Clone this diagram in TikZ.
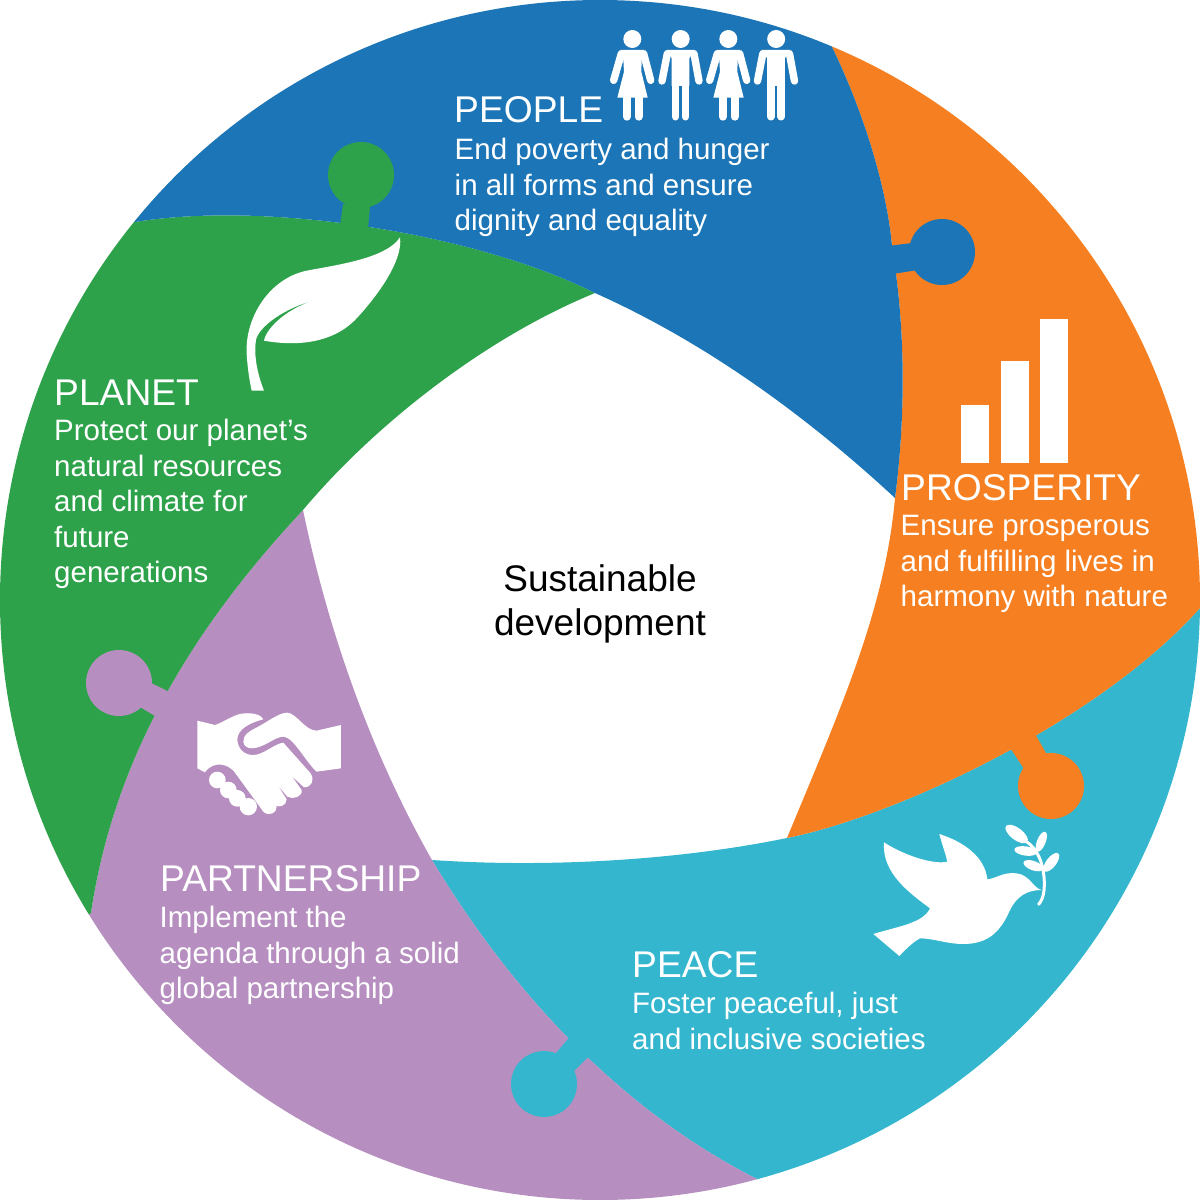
\documentclass[tikz,border=0pt]{standalone}
\usepackage{fontspec}
\setmainfont{Liberation Sans}
\definecolor{cblue}{HTML}{1B75B6}
\definecolor{corange}{HTML}{F68021}
\definecolor{cteal}{HTML}{33B6CE}
\definecolor{cpurple}{HTML}{B68EBF}
\definecolor{cgreen}{HTML}{2DA24A}
\tikzset{
  head/.style={font=\fontsize{37.2}{44}\selectfont,text=white,anchor=base west,inner sep=0pt},
  body/.style={font=\fontsize{29.5}{35.5}\selectfont,text=white,anchor=north west,inner sep=0pt,align=left},
  centre/.style={font=\fontsize{37}{44}\selectfont,text=black,align=center,inner sep=0pt},
  limb/.style={draw=white,line width=8pt,line cap=round,line join=round},
  ico/.style={fill=white,draw=none}
}
\newcommand{\womanicon}[1]{\begin{scope}[shift={(#1,0)},x=0.3333pt,y=-0.3333pt]
 \fill[white] (127,87) circle[radius=27];
 \draw[limb,line width=7.4pt] (94,131) -- (71,211);
 \draw[limb,line width=7.4pt] (161,131) -- (182,211);
 \fill[white] (92,120) -- (162,120) -- (155,150) -- (154,185) -- (173,263) -- (82,263) -- (102,185) -- (100,150) -- cycle;
 \draw[limb] (110.5,255) -- (110.5,320);
 \draw[limb] (145.5,255) -- (145.5,320);
\end{scope}}
\newcommand{\manicon}[1]{\begin{scope}[shift={(#1,0)},x=0.3333pt,y=-0.3333pt]
 \fill[white] (272,87) circle[radius=27];
 \draw[limb,line width=7.4pt] (232,131) -- (216,213);
 \draw[limb,line width=7.4pt] (312,131) -- (327,213);
 \fill[white] (230,120) -- (314,120) -- (298,145) -- (298,228) -- (245,228) -- (245,145) -- cycle;
 \draw[limb,line width=7.7pt] (256.5,225) -- (256.5,320);
 \draw[limb,line width=7.7pt] (286.5,225) -- (286.5,320);
\end{scope}}
\begin{document}
\begin{tikzpicture}[x=1pt,y=-1pt]
\useasboundingbox (0,0) rectangle (1200,1200);
\begin{scope}
\clip (600,600) circle[radius=600];
\fill[cteal] (1200,608) -- (1300,610) -- (1300,1300) -- (800,1300) -- (757,1179)
   .. controls (620,1110) and (510,990) .. (432,860)
   .. controls (550,868) and (680,860) .. (787,838)
   .. controls (900,815) and (1100,720) .. (1200,608) -- cycle;
\fill[corange] (832,47) -- (860,-50) -- (1300,-50) -- (1300,610) -- (1200,608)
   .. controls (1100,720) and (900,815) .. (787,838)
   .. controls (840,710) and (885,610) .. (895,498)
   .. controls (904,430) and (906,350) .. (896,274)
   -- (892,246) .. controls (887,190) and (865,115) .. (832,47) -- cycle;
\fill[cpurple] (91,913) -- (-50,1000) -- (-50,1300) -- (800,1300) -- (757,1179)
   .. controls (620,1110) and (510,990) .. (432,860)
   .. controls (375,760) and (330,640) .. (303,510)
   .. controls (200,620) and (115,750) .. (91,913) -- cycle;
\fill[cgreen] (135,222) -- (60,150) -- (-50,150) -- (-50,1000) -- (91,913)
   .. controls (115,750) and (200,620) .. (303,510)
   .. controls (370,430) and (480,340) .. (595,293)
   .. controls (480,235) and (270,200) .. (135,222) -- cycle;
\fill[cblue] (135,222) -- (60,150) -- (60,-50) -- (860,-50) -- (832,47)
   .. controls (865,115) and (887,190) .. (892,246) -- (896,274)
   .. controls (906,350) and (904,430) .. (895,498)
   .. controls (800,410) and (700,340) .. (595,293)
   .. controls (480,235) and (270,200) .. (135,222) -- cycle;
\end{scope}
% knobs
\fill[cblue] (942,252) circle[radius=33];
\fill[cblue] (880,247) -- (912,243) -- (918,270) -- (880,276) -- cycle;
\fill[cgreen] (361,175) circle[radius=33];
\fill[cgreen] (343,204) -- (370,207) -- (367,240) -- (338,240) -- cycle;
\fill[cpurple] (119,683) circle[radius=33];
\fill[cpurple] (145,680) -- (190,702) -- (175,728) -- (135,704) -- cycle;
\fill[cteal] (544,1084) circle[radius=33];
\fill[cteal] (550,1060) -- (580,1025) -- (600,1045) -- (570,1075) -- cycle;
\fill[corange] (1051,786) circle[radius=33];
\fill[corange] (1005,740) -- (1030,725) -- (1050,760) -- (1028,775) -- cycle;
% bars
\fill[white] (961,405) rectangle (989,463);
\fill[white] (1001,361) rectangle (1029,463);
\fill[white] (1040,319) rectangle (1068,463);
% people
\begin{scope}[shift={(590,10)}]
\womanicon{0}\manicon{0}\womanicon{96}\manicon{95.5}
\end{scope}
% leaf
\begin{scope}[shift={(230,130)},x=0.3333pt,y=-0.3333pt]
\fill[white] (510,322) .. controls (470,385) and (320,405) .. (230,422)
  .. controls (120,445) and (45,560) .. (50,670)
  .. controls (52,710) and (58,750) .. (65,782) -- (102,782)
  .. controls (85,740) and (70,680) .. (78,630)
  .. controls (85,590) and (170,530) .. (258,510)
  .. controls (180,530) and (110,590) .. (102,632)
  .. controls (200,650) and (310,640) .. (380,565)
  .. controls (445,495) and (520,390) .. (510,322) -- cycle;
\end{scope}
% handshake
\begin{scope}[shift={(180,700)},x=0.3333pt,y=-0.3333pt]
\fill[white] (190,125) .. controls (190,105) and (205,95) .. (225,85)
  .. controls (260,68) and (295,38) .. (322,38)
  .. controls (350,40) and (375,92) .. (410,92) -- (483,75) -- (483,205) -- (410,215)
  .. controls (380,190) and (340,110) .. (310,110)
  .. controls (285,110) and (250,145) .. (215,145)
  .. controls (200,145) and (190,135) .. (190,125) -- cycle;
\fill[white] (52,62) -- (105,75) .. controls (135,65) and (165,40) .. (195,40)
  .. controls (220,38) and (245,45) .. (250,58)
  .. controls (220,65) and (170,85) .. (172,120)
  .. controls (175,150) and (195,165) .. (220,165)
  .. controls (250,165) and (285,130) .. (310,128)
  -- (392,220) .. controls (405,240) and (395,262) .. (372,262) -- (335,228) -- (365,270)
  .. controls (368,290) and (340,300) .. (322,290) -- (293,255) -- (320,298)
  .. controls (320,318) and (295,325) .. (282,315) -- (262,285) -- (290,322)
  .. controls (290,340) and (265,350) .. (250,335)
  -- (170,225) .. controls (150,190) and (100,180) .. (75,217) -- (52,205) -- cycle;
\fill[white] (112,240) circle[radius=25];
\fill[white] (145,270) circle[radius=25];
\fill[white] (172,295) circle[radius=25];
\fill[white] (205,320) circle[radius=26];
\end{scope}
% dove
\begin{scope}[shift={(860,810)},x=0.3333pt,y=-0.3333pt]
\fill[white] (72,97) .. controls (130,135) and (220,165) .. (262,155)
  .. controls (255,125) and (245,100) .. (238,72)
  .. controls (310,95) and (375,140) .. (382,208)
  .. controls (410,205) and (430,185) .. (470,190)
  .. controls (510,195) and (520,235) .. (545,240)
  .. controls (500,240) and (470,260) .. (450,300)
  .. controls (420,370) and (380,402) .. (310,402)
  .. controls (260,402) and (220,385) .. (180,385)
  .. controls (160,395) and (135,420) .. (118,438)
  -- (40,372) .. controls (110,350) and (190,340) .. (210,295)
  .. controls (150,250) and (65,190) .. (72,97) -- cycle;
\draw[white,line width=3pt,line cap=round] (536,283) .. controls (552,265) and (555,235) .. (552,200) .. controls (548,160) and (535,120) .. (500,95);
\fill[white,rotate around={-37:(470,72)}] (470,72) ellipse[x radius=40,y radius=18];
\fill[white,rotate around={68:(544,95)}] (544,95) ellipse[x radius=32,y radius=13];
\fill[white,rotate around={-8:(497,123)}] (497,123) ellipse[x radius=34,y radius=14];
\fill[white,rotate around={-20:(520,167)}] (520,167) ellipse[x radius=31,y radius=14];
\fill[white,rotate around={52:(574,157)}] (574,157) ellipse[x radius=34,y radius=15];
\end{scope}
% text
\node[head] (peopleh) at (454,122) {PEOPLE};
\node[body] (peopleb) at (454.5,138) {End poverty and hunger\\in all forms and ensure\\dignity and equality};
\node[head] (planeth) at (54,405) {PLANET};
\node[body] (planetb) at (54,419) {Protect our planet’s\\natural resources\\and climate for\\future\\generations};
\node[head] (prosph) at (901,500) {PROSPERITY};
\node[body] (prospb) at (900.5,515) {Ensure prosperous\\and fulfilling lives in\\harmony with nature};
\node[head] (peaceh) at (632,977) {PEACE};
\node[body] (peaceb) at (632,992) {Foster peaceful, just\\and inclusive societies};
\node[head] (parth) at (160,891) {PARTNERSHIP};
\node[body] (partb) at (159.5,906) {Implement the\\agenda through a solid\\global partnership};
\node[centre] (mid) at (600,604) {Sustainable\\development};
\end{tikzpicture}
\end{document}
